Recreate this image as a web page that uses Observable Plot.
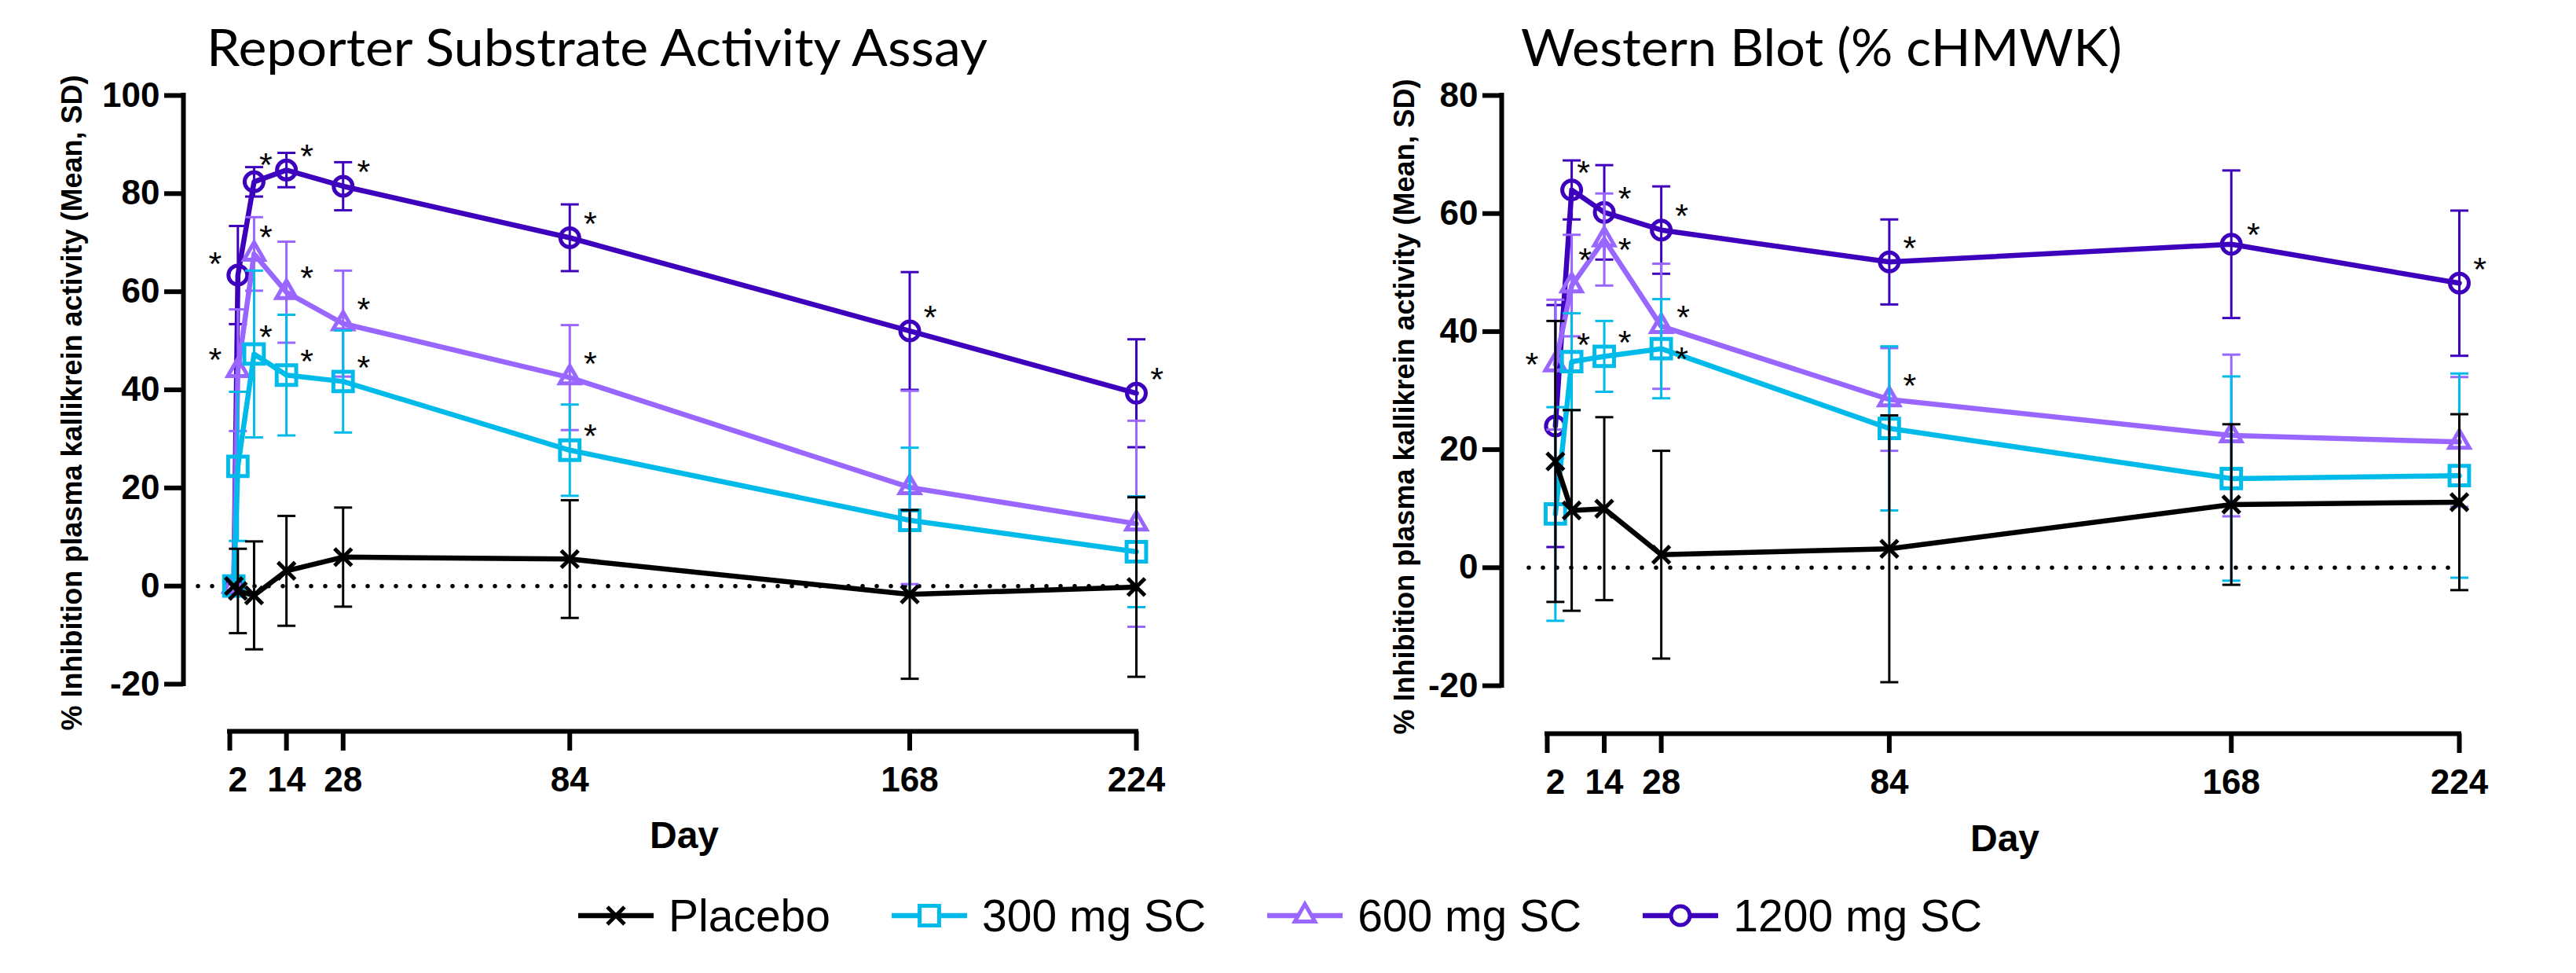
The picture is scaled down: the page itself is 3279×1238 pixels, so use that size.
<!DOCTYPE html>
<html>
<head>
<meta charset="utf-8">
<script src="https://cdn.jsdelivr.net/npm/d3@7"></script>
<script src="https://cdn.jsdelivr.net/npm/@observablehq/plot@0.6"></script>
<style>
  html, body { margin: 0; padding: 0; background: #ffffff; }
  body { width: 3279px; height: 1238px; position: relative; overflow: hidden; font-family: "Liberation Sans", Arial, sans-serif; color: #000; }
  .chart { position: absolute; top: 0; }
  .title { position: relative; height: 90px; }
  .title span { position: absolute; top: 21px; white-space: nowrap; font-family: Lato, "Open Sans", sans-serif; font-size: 65px; line-height: 76px; transform-origin: 0 0; }
  .chart svg { display: block; overflow: visible; }
  #legend { position: absolute; left: 736px; top: 1130px; height: 70px; display: flex; align-items: center; font-size: 57px; white-space: nowrap; }
  #legend .item { display: flex; align-items: center; margin-right: 78px; }
  #legend .item svg { margin-right: 19px; overflow: visible; }
</style>
</head>
<body>
<div class="chart" id="rsa" style="left:0px;width:1640px"><div class="title"><span style="left:263px" data-width="994">Reporter Substrate Activity Assay</span></div></div>
<div class="chart" id="wb" style="left:1640px;width:1639px"><div class="title"><span style="left:296px" data-width="765">Western Blot (% cHMWK)</span></div></div>
<div id="legend"></div>
<script>
// ---------- data ----------
const groups = ["Placebo", "300 mg SC", "600 mg SC", "1200 mg SC"];
const colors = ["#000000", "#00BBEA", "#9966FF", "#3D00BD"];
const symbols = ["times", "square", "triangle", "circle"];
const symbolR = [10, 14, 9.5, 12];
const drawOrder = ["1200 mg SC", "600 mg SC", "300 mg SC", "Placebo"];

const xTickMarks = [0, 14, 28, 84, 168, 224];
const xTickLabels = [2, 14, 28, 84, 168, 224];
const xDomain = [0, 224];
const yLabel = "% Inhibition plasma kallikrein activity (Mean, SD)";
const xLabel = "Day";

// Reporter Substrate Activity Assay
const rsaDays = [1, 2, 6, 14, 28, 84, 168, 224];
const rsaPlacebo   = [0, -1.0, -1.9, 3.1, 5.9, 5.5, -1.7, -0.2];
const rsaPlaceboSD = [null, 8.6, 11.0, 11.2, 10.1, 12.0, 17.2, 18.3];
const rsa300       = [0, 24.4, 47.3, 43.0, 41.7, 27.7, 13.4, 7.0];
const rsa300SD     = [null, 15.2, 17.0, 12.3, 10.4, 9.3, 14.8, 11.3];
const rsa600       = [0, 44.0, 67.7, 59.9, 53.5, 42.5, 20.1, 12.7];
const rsa600SD     = [null, 12.4, 7.5, 10.3, 10.8, 10.7, 19.7, 21.0];
const rsa1200      = [0, 63.4, 82.4, 84.8, 81.5, 71.0, 52.0, 39.3];
const rsa1200SD    = [null, 10.0, 3.0, 3.5, 4.9, 6.8, 12.0, 11.0];
const rsaYDomain = [-20, 100];
const rsaYTicks = [-20, 0, 20, 40, 60, 80, 100];
const rsaStars = [
  ["1200 mg SC", 2, "ul"], ["1200 mg SC", 6, "u"], ["1200 mg SC", 14, "ur"], ["1200 mg SC", 28, "ur"],
  ["1200 mg SC", 84, "ur"], ["1200 mg SC", 168, "ur"], ["1200 mg SC", 224, "ur"],
  ["600 mg SC", 2, "ul"], ["600 mg SC", 6, "u"], ["600 mg SC", 14, "ur"], ["600 mg SC", 28, "ur"], ["600 mg SC", 84, "ur"],
  ["300 mg SC", 6, "u"], ["300 mg SC", 14, "ur"], ["300 mg SC", 28, "ur"], ["300 mg SC", 84, "ur"]
];

// Western Blot (% cHMWK)
const wbDays = [2, 6, 14, 28, 84, 168, 224];
const wbPlacebo   = [18.0, 9.7, 10.0, 2.2, 3.2, 10.7, 11.1];
const wbPlaceboSD = [23.8, 17.0, 15.5, 17.6, 22.6, 13.6, 14.9];
const wb300       = [9.1, 34.9, 35.8, 37.1, 23.6, 15.1, 15.6];
const wb300SD     = [18.1, 8.2, 6.0, 8.4, 13.9, 17.3, 17.3];
const wb600       = [34.4, 47.8, 55.6, 40.9, 28.5, 22.4, 21.3];
const wb600SD     = [11.0, 8.6, 7.8, 10.6, 8.7, 13.7, 11.0];
const wb1200      = [24.0, 64.0, 60.2, 57.2, 51.8, 54.8, 48.2];
const wb1200SD    = [20.5, 5.0, 8.0, 7.4, 7.2, 12.5, 12.3];
const wbYDomain = [-20, 80];
const wbYTicks = [-20, 0, 20, 40, 60, 80];
const wbStars = [
  ["1200 mg SC", 6, "u"], ["1200 mg SC", 14, "ur"], ["1200 mg SC", 28, "ur"], ["1200 mg SC", 84, "ur"],
  ["1200 mg SC", 168, "mr"], ["1200 mg SC", 224, "ur"],
  ["600 mg SC", 2, "l"], ["600 mg SC", 6, "uu"], ["600 mg SC", 14, "r"], ["600 mg SC", 28, "mr"], ["600 mg SC", 84, "ur"],
  ["300 mg SC", 6, "u"], ["300 mg SC", 14, "ur"], ["300 mg SC", 28, "r"]
];

// ---------- styling ----------
const starOffsets = {ur: [26, -28], u: [15, -32], uu: [17, -43], ul: [-29, -24], l: [-30, -10], r: [26, 3], mr: [28, -22]};
const starSize = 43;
const capSymbol = {draw(context, size) { const r = Math.sqrt(size / Math.PI); context.moveTo(-r, 0); context.lineTo(r, 0); }};
const FONT = "'Liberation Sans', Arial, Helvetica, sans-serif";
const LINE_W = 6.5, MARK_W = 5, ERR_W = 3;

function buildChart(cfg) {
  const rows = [];
  groups.forEach((g, gi) => cfg.values[gi].forEach((v, i) => rows.push({group: g, day: cfg.days[i], value: v, sd: cfg.sds[gi][i]})));
  const valueAt = (g, day) => rows.find(r => r.group === g && r.day === day).value;
  const stars = cfg.stars.map(([g, day, pos]) => ({group: g, day, value: valueAt(g, day), pos}));

  const marks = [
    Plot.ruleY([0], {x1: xDomain[0], x2: xDomain[1], insetLeft: cfg.dotInset, stroke: "#000", strokeWidth: 5.5, strokeDasharray: "0 18", strokeLinecap: "round"})
  ];
  for (const g of drawOrder) {
    const gi = groups.indexOf(g);
    const data = rows.filter(d => d.group === g);
    const err = data.filter(d => d.sd != null);
    marks.push(
      Plot.ruleX(err, {x: "day", y1: d => d.value - d.sd, y2: d => d.value + d.sd, stroke: colors[gi], strokeWidth: ERR_W}),
      Plot.dot(err, {x: "day", y: d => d.value - d.sd, symbol: capSymbol, r: 11.5, stroke: colors[gi], strokeWidth: ERR_W, fill: "none"}),
      Plot.dot(err, {x: "day", y: d => d.value + d.sd, symbol: capSymbol, r: 11.5, stroke: colors[gi], strokeWidth: ERR_W, fill: "none"}),
      Plot.line(data, {x: "day", y: "value", stroke: colors[gi], strokeWidth: LINE_W, strokeLinejoin: "round"}),
      Plot.dot(data, {x: "day", y: "value", symbol: symbols[gi], r: symbolR[gi], stroke: colors[gi], strokeWidth: MARK_W, fill: "none"})
    );
  }
  for (const [code, [ox, oy]] of Object.entries(starOffsets)) {
    const s = stars.filter(d => d.pos === code);
    if (s.length) marks.push(Plot.text(s, {x: "day", y: "value", text: () => "*", dx: ox, dy: oy + 0.25 * starSize, fontSize: starSize, lineAnchor: "middle", textAnchor: "middle", fill: "#000"}));
  }
  marks.push(
    // y axis
    Plot.ruleX([xDomain[0]], {y1: cfg.yDomain[0], y2: cfg.yDomain[1], dx: cfg.yAxisDx, stroke: "#000", strokeWidth: 6, strokeLinecap: "square"}),
    Plot.axisY({ticks: cfg.yTicks, tickSize: 24, tickPadding: 6, strokeWidth: 6, fontSize: 44, fontWeight: "bold", tickFormat: d => String(d), label: null}),
    // x axis (offset below)
    Plot.ruleY([cfg.yDomain[0]], {x1: xDomain[0], x2: xDomain[1], dy: cfg.xAxisDy, stroke: "#000", strokeWidth: 6, strokeLinecap: "square"}),
    Plot.axisX({ticks: xTickMarks, tickSize: 25, strokeWidth: 6, tickFormat: () => "", label: null}),
    Plot.axisX({ticks: xTickLabels, tickSize: 0, tickPadding: 45, fontSize: 44, fontWeight: "bold", tickFormat: d => String(d), label: null}),
    // axis titles
    Plot.text([yLabel], {frameAnchor: "left", rotate: -90, dx: cfg.yLabelDx, dy: cfg.yLabelDy, fontSize: 36, fontWeight: "bold", textAnchor: "middle", lineAnchor: "middle", fill: "#000"}),
    Plot.text([xLabel], {frameAnchor: "bottom", dx: 31, dy: cfg.dayDy, fontSize: 48, fontWeight: "bold", textAnchor: "middle", lineAnchor: "middle", fill: "#000"})
  );

  const svg = Plot.plot({
    width: cfg.width, height: cfg.height,
    marginLeft: cfg.ml, marginRight: cfg.mr, marginTop: cfg.mt, marginBottom: cfg.mb,
    x: {domain: xDomain, range: cfg.xRange},
    y: {domain: cfg.yDomain, range: cfg.yRange},
    style: {fontFamily: FONT, background: "transparent", color: "#000", overflow: "visible"},
    marks
  });
  document.querySelector(cfg.el).appendChild(svg);
}

buildChart({
  el: "#rsa", width: 1640, height: 1010, ml: 233, mr: 194, mt: 31, mb: 170,
  xRange: [292, 1446], yDomain: rsaYDomain, yRange: [780, 31], yTicks: rsaYTicks,
  days: rsaDays, values: [rsaPlacebo, rsa300, rsa600, rsa1200], sds: [rsaPlaceboSD, rsa300SD, rsa600SD, rsa1200SD],
  stars: rsaStars, dotInset: -40, yAxisDx: -59, xAxisDy: 60, yLabelDx: -141, yLabelDy: -13.5, dayDy: 133.5
});
buildChart({
  el: "#wb", width: 1639, height: 1010, ml: 271, mr: 149, mt: 31, mb: 167,
  xRange: [329, 1490], yDomain: wbYDomain, yRange: [782, 31], yTicks: wbYTicks,
  days: wbDays, values: [wbPlacebo, wb300, wb600, wb1200], sds: [wbPlaceboSD, wb300SD, wb600SD, wb1200SD],
  stars: wbStars, dotInset: -23, yAxisDx: -58, xAxisDy: 61, yLabelDx: -123, yLabelDy: -10, dayDy: 134.5
});

// ---------- legend ----------
const d3Symbols = {times: d3.symbolTimes, square: d3.symbolSquare, triangle: d3.symbolTriangle, circle: d3.symbolCircle};
const legend = d3.select("#legend");
groups.forEach((g, i) => {
  const item = legend.append("div").attr("class", "item");
  const s = item.append("svg").attr("width", 96).attr("height", 40);
  s.append("line").attr("x1", 0).attr("x2", 96).attr("y1", 20).attr("y2", 20).attr("stroke", colors[i]).attr("stroke-width", LINE_W);
  s.append("path").attr("transform", "translate(48,20)")
    .attr("d", d3.symbol(d3Symbols[symbols[i]], Math.PI * symbolR[i] * symbolR[i])())
    .attr("fill", "white").attr("stroke", colors[i]).attr("stroke-width", MARK_W);
  item.append("span").text(g);
});

// ---------- fit titles ----------
function fitTitles() {
  document.querySelectorAll(".title span").forEach(el => {
    el.style.transform = "none";
    const w = el.getBoundingClientRect().width;
    el.style.transform = "scaleX(" + (+el.dataset.width / w) + ")";
  });
}
fitTitles();
if (document.fonts && document.fonts.ready) document.fonts.ready.then(fitTitles);
</script>
</body>
</html>
